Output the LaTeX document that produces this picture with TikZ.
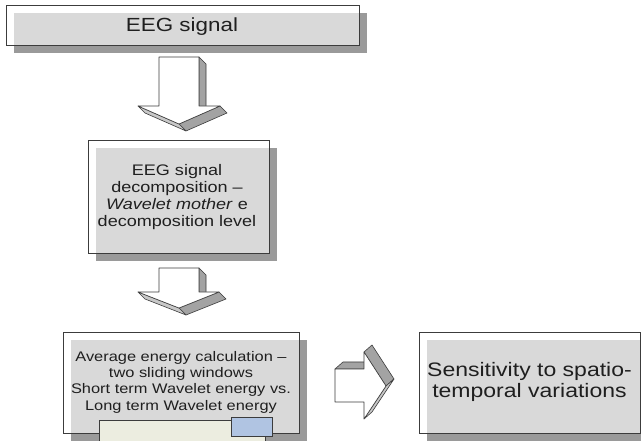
\documentclass[tikz,border=0pt]{standalone}
\usepackage{fontspec}
\setmainfont{Liberation Sans}[FakeStretch=1.18]
\usepackage{tikz}
\definecolor{boxgray}{HTML}{D9D9D9}
\definecolor{shadowgray}{HTML}{9A9A9A}
\definecolor{sidegray}{HTML}{A3A3A3}
\definecolor{lightside}{HTML}{C8C8C8}
\definecolor{notefill}{HTML}{ECEDE0}
\definecolor{tabblue}{HTML}{B0C4E2}
\definecolor{linegray}{HTML}{3C3C3C}

\begin{document}
\begin{tikzpicture}[x=1pt,y=-1pt,
                    frame/.style={draw=linegray,line width=0.9pt},
                    fillin/.style={fill=boxgray},
                    shade/.style={fill=shadowgray},
                    face/.style={draw=linegray,fill=white,line width=0.6pt,line join=round},
                    side/.style={draw=linegray,fill=sidegray,line width=0.6pt,line join=round},
                    thinside/.style={draw=linegray,fill=lightside,line width=0.6pt,line join=round},
                    txt/.style={align=center,inner sep=0pt,text=black!88}
                ]
                    \clip (0,0) rectangle (641,441);
                    \fill[white] (0,0) rectangle (641,441);

                    \foreach \x/\y/\X/\Y in {6/5/359/45, 88/140/269/253, 63/332/299/433, 419/332/640/433}
                        {
                        \fill[shade] (\x+8,\y+8) rectangle (\X+8,\Y+8);
                        \fill[white] (\x,\y) rectangle (\X,\Y);
                        \fill[fillin] (\x+8,\y+8) rectangle (\X,\Y);
                        \draw[frame] (\x,\y) rectangle (\X,\Y);
                    }

                    \node[txt,font=\fontsize{19}{22}\selectfont] (signal) at (182,27) {EEG signal};
                    \node[txt,font=\fontsize{15.3}{17.3}\selectfont] (decomp) at (177,197)
                        {EEG signal\\decomposition –\\\textit{Wavelet mother} e\\decomposition level};
                    \node[txt,font=\fontsize{13.9}{16.3}\selectfont] (energy) at (181,382)
                        {Average energy calculation –\\two sliding windows\\Short term Wavelet energy vs.\\Long term Wavelet energy};
                    \node[txt,font=\fontsize{19.5}{20.5}\selectfont] (sensitivity) at (529.5,382)
                        {Sensitivity to spatio-\\temporal variations};

                    \filldraw[side] (199,57) -- (206,64) -- (206,113) -- (199,106) -- cycle;
                    \filldraw[side] (220,106) -- (227,113) -- (186,131) -- (179,124) -- cycle;
                    \filldraw[thinside] (179,124) -- (186,131) -- (145,113) -- (138,106) -- cycle;
                    \filldraw[face] (159,57) -- (199,57) -- (199,106) -- (220,106) -- (179,124) -- (138,106) -- (159,106) -- cycle;

                    \filldraw[side] (199,268) -- (206,275) -- (206,299) -- (199,292) -- cycle;
                    \filldraw[side] (219,292) -- (226,299) -- (186,315) -- (179,308) -- cycle;
                    \filldraw[thinside] (179,308) -- (186,315) -- (145,299) -- (138,292) -- cycle;
                    \filldraw[face] (159,268) -- (199,268) -- (199,292) -- (219,292) -- (179,308) -- (138,292) -- (159,292) -- cycle;

                    \filldraw[side] (335,369) -- (343,362) -- (372,362) -- (364,369) -- cycle;
                    \filldraw[side] (364,352) -- (372,345) -- (394,379) -- (386,386) -- cycle;
                    \filldraw[thinside] (386,386) -- (394,379) -- (372,412) -- (364,419) -- cycle;
                    \filldraw[face] (335,369) -- (364,369) -- (364,352) -- (386,386) -- (364,419) -- (364,402) -- (335,402) -- cycle;

                    \filldraw[draw=linegray,fill=notefill,line width=0.8pt] (99,420) rectangle (265,450);
                    \filldraw[draw=linegray,fill=tabblue,line width=0.8pt] (231,417) rectangle (272,436);

                \end{tikzpicture}
\end{document}
